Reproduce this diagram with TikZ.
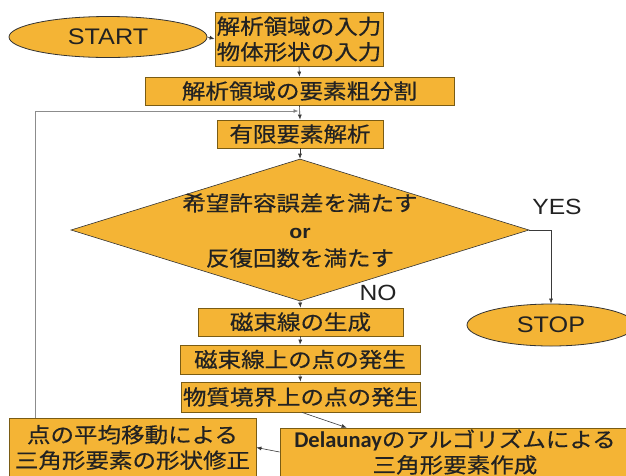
\documentclass[tikz,border=0pt]{standalone}
\usepackage{fontspec}
\setmainfont{Noto Sans CJK JP}[FakeStretch=1.12,FakeBold=0.5]
\newfontfamily\lat{Liberation Sans}[FakeStretch=1.12]
\newfontfamily\delfont{Carlito}
\usetikzlibrary{shapes.geometric,arrows.meta,calc}
\definecolor{boxfill}{HTML}{F4B435}
\definecolor{boxline}{HTML}{7A5C14}
\definecolor{termline}{HTML}{333333}
\definecolor{arrcol}{HTML}{3A3A3A}
\definecolor{loopcol}{HTML}{8C8C8C}
\definecolor{labcol}{HTML}{222222}
\begin{document}
\begin{tikzpicture}[x=1pt,y=-1pt,
  box/.style={draw=boxline, fill=boxfill, line width=0.8pt, inner sep=0pt, align=center,
    text=labcol, font=\fontsize{21}{25.5}\selectfont},
  term/.style={ellipse, draw=termline, fill=boxfill, line width=0.8pt, inner sep=0pt,
    text=labcol, font=\lat\fontsize{22.5}{26}\selectfont},
  decbox/.style={diamond, draw=termline, fill=boxfill, line width=0.6pt, inner sep=0pt},
  arr/.style={draw=arrcol, line width=0.6pt, -{Latex[length=5pt,width=4pt]}},
  lbl/.style={font=\lat\fontsize{22}{26}\selectfont, text=labcol}]
\fill[white] (0,0) rectangle (626,475);
\useasboundingbox (0,0) rectangle (626,475);

\node[term, minimum width=198pt, minimum height=41pt] (start) at (108,37) {START};
\node[box, minimum width=168pt, minimum height=54pt] (b1) at (299,39) {解析領域の入力\\物体形状の入力};
\node[box, minimum width=309pt, minimum height=28pt] (b2) at (299.5,91) {解析領域の要素粗分割};
\node[box, minimum width=166pt, minimum height=28pt] (b3) at (300,134) {有限要素解析};
\node[decbox, minimum width=458pt, minimum height=142pt] (dec) at (300,230) {};
\node[align=center, text=labcol, font=\fontsize{21}{27.5}\selectfont] (dect) at (300,230.5)
  {希望許容誤差を満たす\\{\lat\bfseries\fontsize{19}{27.5}\selectfont or}\\反復回数を満たす};
\node[term, minimum width=168pt, minimum height=42pt] (stop) at (551,325) {STOP};
\node[box, minimum width=205pt, minimum height=28pt] (b4) at (300.5,322) {磁束線の生成};
\node[box, minimum width=240pt, minimum height=29pt] (b5) at (300,359.5) {磁束線上の点の発生};
\node[box, minimum width=239pt, minimum height=30pt] (b6) at (300.5,397) {物質境界上の点の発生};
\node[box, minimum width=350pt, minimum height=48pt] (b8) at (455,452)
  {{\delfont\bfseries\fontsize{22.5}{25}\selectfont Delaunay}のアルゴリズムによる\\三角形要素作成};
\node[box, minimum width=247pt, minimum height=59pt] (b7) at (132.5,447.5)
  {点の平均移動による\\三角形要素の形状修正};

\node[lbl] (yes) at (557,207) {YES};
\node[lbl] (no) at (378,293) {NO};

\coordinate (j) at (300,111);
\coordinate (lp) at (35,111);

\draw[arr] (start.east) -- (b1.west);
\draw[arr] (b1.south) -- (b2.north);
\draw[arr] (b2.south) -- (b3.north);
\draw[arr] (b3.south) -- (dec.north);
\draw[arr] (dec.south) -- (b4.north);
\draw[arr] (b4.south) -- (b5.north);
\draw[arr] (b5.south) -- (b6.north);
\draw[arr] ($(b6.south)+(1.5,0)$) -- ($(b8.north west)+(67,0)$);
\draw[arr] (b8.west) -- (b7.east);
\draw[arr] (dec.east) -| (stop.north);
\draw[draw=loopcol, line width=0.8pt] (b7.north -| lp) -- (lp);
\draw[draw=loopcol, line width=0.8pt, -{Latex[length=5pt,width=4pt,fill=arrcol]}] (lp) -- ($(j)+(-1.5,0)$);
\end{tikzpicture}
\end{document}
